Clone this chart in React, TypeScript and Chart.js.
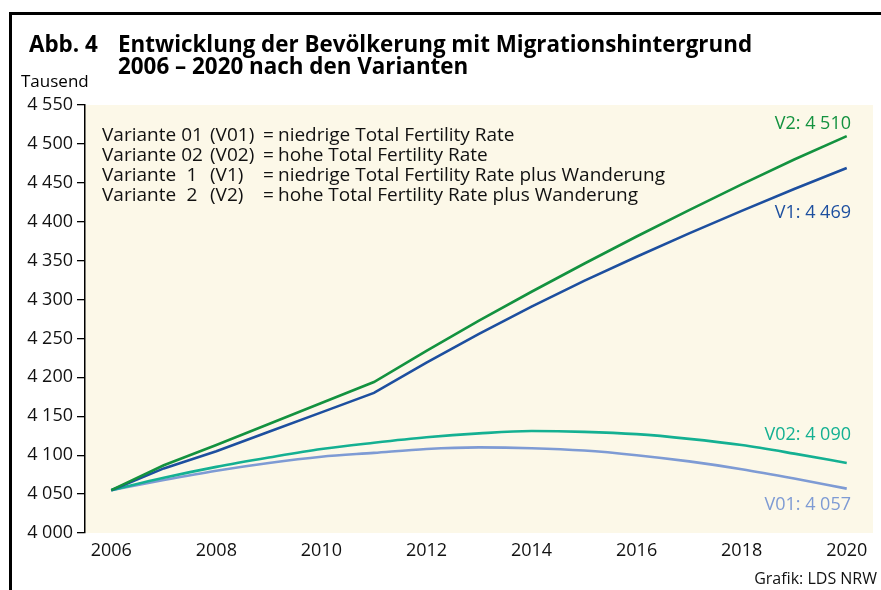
import React, { useEffect, useRef } from "react";
import { Chart, registerables } from "chart.js";

Chart.register(...registerables);

const years = ["2006","2007","2008","2009","2010","2011","2012","2013","2014","2015","2016","2017","2018","2019","2020"];
const v2 = [4055, 4087, 4113, 4140, 4167, 4194, 4234, 4273, 4310, 4346, 4381, 4415, 4448, 4480, 4510];
const v1 = [4055, 4083, 4105, 4130, 4155, 4180, 4219, 4256, 4291, 4324, 4355, 4385, 4414, 4442, 4469];
const v02 = [4055, 4071, 4085, 4097, 4108, 4116, 4123, 4128, 4131, 4130, 4127, 4121, 4113, 4102, 4090];
const v01 = [4055, 4068, 4080, 4090, 4098, 4103, 4108, 4110, 4109, 4106, 4100, 4092, 4082, 4070, 4057];
const seriesNames = ["V2", "V1", "V02", "V01"];
const legendRows = [
  ["Variante", "01", "(V01)", "niedrige Total Fertility Rate"],
  ["Variante", "02", "(V02)", "hohe Total Fertility Rate"],
  ["Variante", "1", "(V1)", "niedrige Total Fertility Rate plus Wanderung"],
  ["Variante", "2", "(V2)", "hohe Total Fertility Rate plus Wanderung"],
];
const titleLabel = "Abb. 4";
const titleLines = ["Entwicklung der Bevölkerung mit Migrationshintergrund", "2006 – 2020 nach den Varianten"];
const unitLabel = "Tausend";
const sourceLabel = "Grafik: LDS NRW";

const FONT = "'Open Sans', sans-serif";
const COLORS = ["#13923f", "#1d4f9f", "#14b092", "#7e9bd4"];
const LABEL_OFFSETS = [-7, 50, -23, 21];

const fmt = (v: number) => {
  const t = Math.floor(v / 1000);
  const r = String(Math.round(v % 1000)).padStart(3, "0");
  return `${t} ${r}`;
};

const decor = {
  id: "decor",
  beforeDraw(chart: any) {
    const { ctx, chartArea } = chart;
    ctx.save();
    ctx.fillStyle = "#ffffff";
    ctx.fillRect(0, 0, chart.width, chart.height);
    ctx.fillStyle = "#fcf8e8";
    ctx.fillRect(chartArea.left, chartArea.top, chartArea.right - chartArea.left, chartArea.bottom - chartArea.top);
    ctx.restore();
  },
  afterDraw(chart: any) {
    const { ctx } = chart;
    ctx.save();
    // frame
    ctx.fillStyle = "#000";
    ctx.fillRect(9, 12, 3, chart.height - 12);
    ctx.fillRect(9, 12, chart.width - 9, 3);
    // title
    ctx.fillStyle = "#000";
    ctx.textBaseline = "alphabetic";
    ctx.textAlign = "left";
    ctx.font = `bold 22.4px ${FONT}`;
    ctx.fillText(titleLabel, 29, 52);
    ctx.fillText(titleLines[0], 118, 52);
    ctx.fillText(titleLines[1], 118, 74);
    ctx.font = `17px ${FONT}`;
    ctx.fillText(unitLabel, 21, 87);
    // legend
    ctx.font = `19px ${FONT}`;
    ctx.fillStyle = "#111";
    const rowY = [141, 161, 181, 201];
    legendRows.forEach((r, i) => {
      ctx.textAlign = "left";
      ctx.fillText(r[0], 102, rowY[i]);
      ctx.textAlign = "center";
      ctx.fillText(r[1], 192, rowY[i]);
      ctx.textAlign = "left";
      ctx.fillText(r[2], 210, rowY[i]);
      ctx.fillText("=", 263, rowY[i]);
      ctx.fillText(r[3], 278, rowY[i]);
    });
    // end labels
    ctx.font = `18px ${FONT}`;
    ctx.textAlign = "right";
    chart.data.datasets.forEach((ds: any, i: number) => {
      const meta = chart.getDatasetMeta(i);
      const pt = meta.data[meta.data.length - 1];
      const val = ds.data[ds.data.length - 1];
      ctx.fillStyle = COLORS[i];
      ctx.fillText(`${seriesNames[i]}: ${fmt(val)}`, 851, pt.y + LABEL_OFFSETS[i]);
    });
    // source
    ctx.fillStyle = "#111";
    ctx.font = `16px ${FONT}`;
    ctx.fillText(sourceLabel, 877, 584);
    ctx.restore();
  },
};

export default function App() {
  const ref = useRef<HTMLCanvasElement>(null);
  useEffect(() => {
    if (!ref.current) return;
    const mk = (data: number[], i: number, smooth: boolean) => ({
      label: seriesNames[i],
      data,
      borderColor: COLORS[i],
      backgroundColor: COLORS[i],
      borderWidth: 2.6,
      pointRadius: 0,
      tension: smooth ? 0.4 : 0,
      cubicInterpolationMode: smooth ? "monotone" : "default",
      fill: false,
    });
    const chart = new Chart(ref.current, {
      type: "line",
      data: {
        labels: years,
        datasets: [mk(v2, 0, false), mk(v1, 1, false), mk(v02, 2, true), mk(v01, 3, true)],
      },
      options: {
        animation: false,
        responsive: false,
        devicePixelRatio: 1,
        layout: { padding: { top: 105, right: 8, left: 0, bottom: 0 } },
        plugins: { legend: { display: false }, tooltip: { enabled: false }, title: { display: false } },
        scales: {
          x: {
            type: "category",
            offset: true,
            grid: { display: false, drawTicks: false },
            border: { display: false },
            ticks: {
              autoSkip: false,
              maxRotation: 0,
              padding: 7,
              color: "#111",
              font: { family: FONT, size: 18 },
              callback: function (this: any, value: any, index: number) {
                return index % 2 === 0 ? this.getLabelForValue(value) : "";
              },
            },
            afterFit: (s: any) => { s.height = 57; },
          },
          y: {
            min: 4000,
            max: 4550,
            grid: { drawOnChartArea: false, color: "#000", tickLength: 8, lineWidth: 1.3 },
            border: { display: true, color: "#000", width: 1.5 },
            ticks: {
              stepSize: 50,
              padding: 4,
              color: "#111",
              font: { family: FONT, size: 18 },
              callback: (v: any) => fmt(Number(v)),
            },
            afterFit: (s: any) => { s.width = 85; },
          },
        },
      } as any,
      plugins: [decor],
    });
    return () => chart.destroy();
  }, []);
  return (
    <div style={{ position: "absolute", left: 0, top: 0, width: 881, height: 590 }}>
      <canvas ref={ref} width={881} height={590} style={{ width: 881, height: 590 }} />
    </div>
  );
}
